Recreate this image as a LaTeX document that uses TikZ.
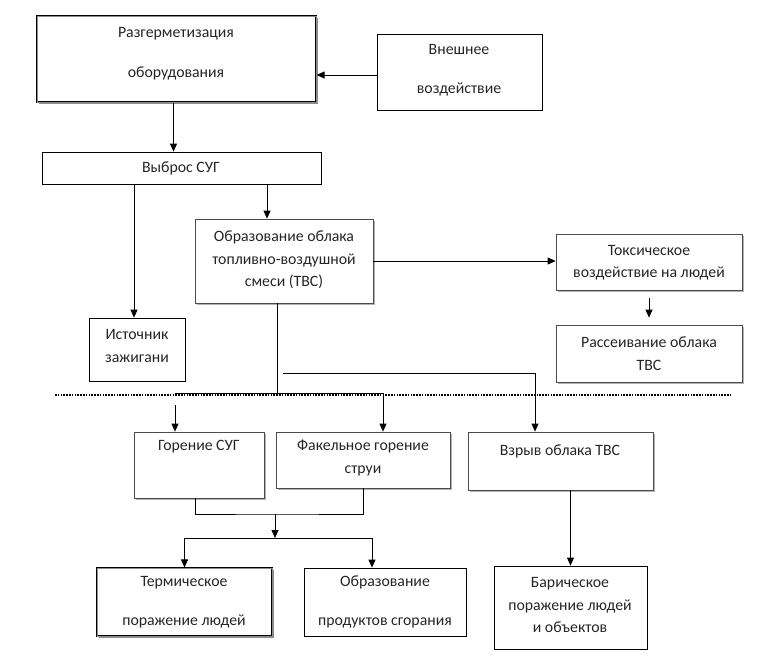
\documentclass[tikz,border=0pt]{standalone}
\usepackage{fontspec}
\setmainfont{Carlito}
\usetikzlibrary{arrows.meta}
\usetikzlibrary{shadows}

\tikzset{
  box/.style={draw, rectangle, inner sep=0pt, line width=0.8pt, fill=white},
  shbox/.style={box, draw=black!70,
    drop shadow={shadow xshift=2pt, shadow yshift=-2pt, fill=black!30, opacity=1}},
  thickbox/.style={box, double=black!45, double distance=0.7pt, line width=1.1pt,
    drop shadow={shadow xshift=1.5pt, shadow yshift=-1.5pt, fill=black!45, opacity=1}},
  txt/.style={align=center, inner sep=0pt, text=black!85,
    font=\fontsize{15.8}{22.5}\selectfont},
  line/.style={draw, line width=0.8pt},
  arr/.style={line, -{Triangle[length=8pt,width=7pt]}},
  sepline/.style={line width=1.5pt, dash pattern=on 1.5pt off 1.3pt},
}

\begin{document}
\begin{tikzpicture}[x=1pt, y=-1pt]
  \useasboundingbox (0,0) rectangle (768,656);

  % boxes
  \node[thickbox, minimum width=279pt, minimum height=86pt] (razg) at (176.5,59) {};
  \node[box, minimum width=165pt, minimum height=76pt] (vnesh) at (459.5,72) {};
  \node[box, minimum width=279pt, minimum height=32pt] (vybros) at (181.5,168) {};
  \node[shbox, minimum width=178pt, minimum height=84pt] (obraz) at (284,261) {};
  \node[box, minimum width=96pt, minimum height=63pt] (istoch) at (137,349.5) {};
  \node[shbox, minimum width=186pt, minimum height=56pt] (tox) at (649,262) {};
  \node[shbox, minimum width=186pt, minimum height=57pt] (rass) at (649,353.5) {};
  \node[shbox, minimum width=130pt, minimum height=66pt] (goren) at (199,465) {};
  \node[shbox, minimum width=174pt, minimum height=56pt] (fakel) at (363,460) {};
  \node[shbox, minimum width=185pt, minimum height=58pt] (vzryv) at (560.5,461) {};
  \node[thickbox, minimum width=175pt, minimum height=68pt] (term) at (184.5,602) {};
  \node[box, minimum width=162pt, minimum height=68pt] (prod) at (385,602) {};
  \node[box, minimum width=153pt, minimum height=83pt] (bar) at (570.5,607.5) {};

  % texts
  \node[txt] (razg-t) at (176,53.5) {Разгерметизация\\[17pt]оборудования};
  \node[txt] (vnesh-t) at (459,70) {Внешнее\\[17pt]воздействие};
  \node[txt] (vybros-t) at (181,168) {Выброс СУГ};
  \node[txt] (obraz-t) at (284,260) {Образование облака\\топливно-воздушной\\смеси (ТВС)};
  \node[txt] (istoch-t) at (137,346) {Источник\\зажигани};
  \node[txt] (tox-t) at (649,262.5) {Токсическое\\воздействие на людей};
  \node[txt] (rass-t) at (649,353.5) {Рассеивание облака\\ТВС};
  \node[txt] (goren-t) at (199,447) {Горение СУГ};
  \node[txt] (fakel-t) at (363,458) {Факельное горение\\струи};
  \node[txt] (vzryv-t) at (560,451) {Взрыв облака ТВС};
  \node[txt] (term-t) at (184,602) {Термическое\\[17pt]поражение людей};
  \node[txt] (prod-t) at (385,602) {Образование\\[17pt]продуктов сгорания};
  \node[txt] (bar-t) at (570,605) {Барическое\\поражение людей\\и объектов};

  % separator
  \coordinate (sep-l) at (55,395);
  \coordinate (sep-r) at (730,395);
  \draw[sepline] (sep-l) -- (sep-r);

  % upper part
  \draw[arr] ([yshift=-3pt]vnesh.west) -- ([yshift=-3pt]vnesh.west -| razg.east);
  \draw[arr] ([xshift=-3pt]razg.south) -- ([xshift=-3pt]razg.south |- vybros.north);
  \draw[arr] ([xshift=-3pt]istoch.north |- vybros.south) -- ([xshift=-3pt]istoch.north);
  \draw[arr] ([xshift=-17pt]obraz.north |- vybros.south) -- ([xshift=-17pt]obraz.north);
  \draw[arr] (obraz.east) -- (obraz.east -| tox.west);
  \draw[arr] ([yshift=-8pt]tox.south) -- ([yshift=7pt]rass.north);

  % branches from the cloud
  \coordinate (fork) at (277,393);
  \coordinate (fork-l) at (175,393);
  \coordinate (fork-r) at (383,393);
  \coordinate (gor-in) at (175,405);
  \coordinate (vzr-in) at (283,373);
  \draw[line] ([xshift=-7pt]obraz.south) -- (fork);
  \draw[line] (fork-l) -- (fork-r);
  \draw[arr] (fork-r) -- (fork-r |- fakel.north);
  \draw[arr] (gor-in) -- (gor-in |- goren.north);
  \draw[arr] (vzr-in) -| ([xshift=-25.5pt]vzryv.north);

  % lower part
  \coordinate (join) at (275,514);
  \coordinate (split) at (275,538);
  \draw[line] ([xshift=-4pt]goren.south) |- (join) -| (fakel.south);
  \draw[arr] (join) -- (split);
  \draw[arr] (split) -| (term.north);
  \draw[arr] (split) -| ([xshift=-13pt]prod.north);
  \draw[arr] (bar.north |- vzryv.south) -- (bar.north);
\end{tikzpicture}
\end{document}
